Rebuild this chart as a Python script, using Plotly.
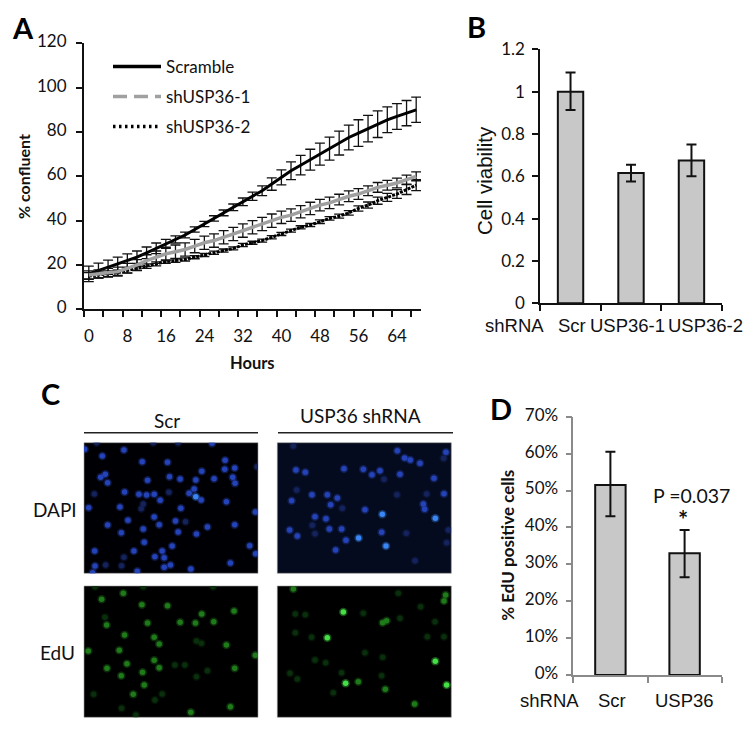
"""Four-panel figure: confluence curves, cell viability, micrographs, EdU bars."""

import plotly.graph_objects as go

# the page body keeps its 8px margin, so the figure fills what is left of the window
BODY = 8
W, H = 754 - BODY, 729 - BODY
CALIBRI = "Lato"
ARIAL = "Liberation Sans"
INK = "#111111"
BAR_GREY = "#c8c8c8"

# ── Panel A: confluence over time ───────────────────────────────────────────

HOURS = list(range(0, 70, 2))
SCRAMBLE = [16, 17.5, 19, 20.5, 22, 23.5, 25.5, 27.5, 29.5, 31.5, 33.5, 36, 38.5, 41, 43.5, 46, 48.5, 51,
            53.5, 56.5, 59.5, 62.5, 65, 67.5, 70, 72.5, 75, 77.5, 79.5, 81.5, 83.5, 85.5, 87, 88.5, 90]
SCRAMBLE_ERR = [3.5, 3.3, 3.2, 3, 3, 2.8, 2.6, 2.4, 2, 1.6, 1.3, 1.2, 1.2, 1.2, 1.3, 1.5, 1.7, 1.9,
                2.2, 2.8, 3.4, 4, 4.4, 4.7, 5, 5.2, 5.4, 5.6, 6, 6, 6, 5.8, 5.8, 5.7, 5.7]
SH1 = [15.5, 16, 16.5, 17, 18.5, 20, 22, 23.5, 25, 26, 27, 28.5, 30, 31, 32.5, 34, 35.5, 37,
       38.5, 40, 41.5, 42.5, 44, 45.5, 47, 48, 49.5, 51, 52, 53.5, 55, 56, 57, 58.5, 60]
SH1_ERR = [1.8, 1.8, 2, 2, 2.2, 2.4, 2.6, 2.8, 3, 3, 3, 3, 3, 3, 3, 3, 3, 3,
           3, 3, 2.8, 2.8, 2.8, 2.8, 2.6, 2.6, 2.4, 2.4, 2.4, 2.2, 2.2, 2.2, 2.2, 2, 2]
SH2 = [15, 15.5, 16, 16.5, 17.5, 18.5, 19.5, 20.5, 21.5, 22, 22.5, 23.5, 24.5, 25.5, 26.5, 27.5, 29, 30,
       31, 32.5, 34, 35.5, 37, 38, 39.5, 41, 42, 43.5, 45.5, 47, 49, 50.5, 52, 54, 56]
SH2_ERR = [1.5, 1.4, 1.3, 1.2, 1.1, 1, 1, 0.9, 0.8, 0.8, 0.7, 0.7, 0.7, 0.7, 0.7, 0.7, 0.7, 0.7,
           0.7, 0.7, 0.7, 0.7, 0.7, 0.7, 0.8, 0.8, 0.9, 1, 1.2, 1.4, 1.6, 1.8, 2, 2.2, 2.5]
A_TICKS = list(range(-1, 70, 4))
A_TICK_TEXT = ["0", "", "8", "", "16", "", "24", "", "32", "", "40", "", "48", "", "56", "", "64", ""]

# ── Panels B and D: bars ────────────────────────────────────────────────────

B_NAMES = ["Scr", "USP36-1", "USP36-2"]
B_VALUES = [1.0, 0.615, 0.675]
B_ERR_UP = [0.09, 0.04, 0.075]
B_ERR_DOWN = [0.087, 0.04, 0.075]

D_NAMES = ["Scr", "USP36"]
D_VALUES = [0.515, 0.33]
D_ERR_UP = [0.09, 0.063]
D_ERR_DOWN = [0.085, 0.065]

DAPI_SCR = [(372, 210, 1), (307, 228, 1), (427, 245, 1), (503, 247, 1), (676, 241, 1), (705, 264, 1), (675, 268, 1),
            (606, 274, 1), (316, 283, 1), (302, 292, 1), (323, 308, 1), (443, 301, 1), (509, 290, 1), (541, 297, 1),
            (588, 300, 1), (643, 296, 1), (699, 292, 1), (706, 310, 1), (374, 336, 1), (283, 342, 0), (417, 343, 1),
            (440, 345, 1), (463, 343, 1), (507, 337, 0), (481, 361, 1), (583, 327, 1), (568, 340, 1), (588, 350, 2),
            (604, 360, 1), (680, 365, 1), (430, 372, 0), (360, 381, 1), (424, 386, 0), (266, 383, 1), (543, 385, 1),
            (767, 396, 1), (463, 411, 1), (384, 421, 1), (323, 435, 1), (430, 447, 1), (478, 434, 1), (527, 423, 1),
            (557, 425, 0), (623, 441, 1), (705, 434, 1), (364, 458, 1), (535, 456, 1), (590, 462, 1), (433, 487, 1),
            (517, 498, 1), (750, 497, 1), (284, 513, 1), (402, 513, 1), (487, 513, 1), (768, 521, 1), (465, 530, 1),
            (372, 532, 0), (493, 533, 1), (512, 555, 1), (692, 549, 1), (285, 558, 1), (317, 555, 0), (365, 557, 0),
            (493, 562, 1), (573, 567, 1), (412, 574, 1), (278, 578, 1), (254, 208, 1), (772, 260, 0), (290, 188, 0),
            (460, 188, 0), (637, 190, 1), (535, 188, 0)]
DAPI_SH = [(880, 198, 0), (1192, 212, 1), (1338, 217, 1), (1214, 234, 1), (1231, 240, 1), (1331, 235, 0),
           (1260, 250, 1), (888, 270, 1), (916, 277, 1), (1032, 266, 1), (1090, 268, 1), (1140, 272, 1),
           (1116, 284, 1), (1200, 283, 1), (1152, 298, 0), (1302, 295, 1), (890, 330, 0), (936, 344, 1),
           (982, 344, 1), (1012, 354, 1), (1191, 344, 0), (1280, 342, 0), (1332, 341, 1), (875, 362, 1),
           (992, 374, 1), (1270, 372, 1), (1274, 388, 1), (1027, 385, 0), (1095, 389, 1), (1147, 403, 2),
           (945, 410, 1), (978, 416, 1), (1306, 415, 2), (937, 436, 0), (1025, 447, 1), (988, 447, 1),
           (869, 450, 1), (892, 468, 1), (945, 461, 0), (1038, 481, 1), (1076, 474, 2), (1145, 457, 1),
           (1219, 460, 0), (1158, 498, 2), (1340, 488, 0), (1007, 510, 1), (1245, 542, 0), (1345, 450, 0)]
EDU_SCR = [(370, 640, 1), (305, 658, 1), (426, 674, 1), (503, 677, 1), (703, 693, 1), (606, 702, 1), (315, 712, 0),
           (320, 735, 1), (443, 729, 1), (541, 727, 1), (587, 729, 1), (642, 725, 1), (374, 765, 1), (463, 772, 1),
           (478, 792, 1), (680, 795, 1), (265, 813, 1), (358, 811, 1), (381, 851, 1), (321, 865, 1), (463, 841, 1),
           (478, 863, 1), (705, 865, 1), (767, 826, 1), (364, 887, 1), (428, 877, 1), (433, 915, 1), (281, 943, 0),
           (400, 943, 1), (487, 942, 0), (465, 960, 0), (365, 985, 0), (573, 997, 1), (692, 980, 1), (408, 1005, 0),
           (640, 620, 0), (285, 620, 0), (430, 620, 0), (590, 890, 0), (525, 855, 0), (555, 855, 0), (623, 872, 0),
           (590, 783, 0), (605, 790, 0)]
EDU_SH = [(880, 627, 1), (1337, 645, 1), (1332, 663, 1), (1030, 696, 2), (886, 702, 0), (916, 704, 0), (1148, 728, 1),
          (1160, 722, 1), (1262, 680, 0), (982, 773, 2), (935, 772, 0), (886, 758, 0), (1148, 832, 0), (977, 848, 0),
          (1306, 844, 2), (1037, 910, 2), (1075, 905, 1), (1156, 928, 1), (1340, 915, 2), (1244, 972, 1), (1282, 770, 0),
          (1200, 715, 0), (1305, 725, 0), (1090, 700, 0), (1095, 818, 0), (1025, 878, 0), (945, 840, 0), (892, 897, 0),
          (870, 880, 0), (1145, 887, 0), (1000, 938, 0), (1332, 770, 0), (1195, 640, 0)]
DAPI_COLORS = ["#14235c", "#2443b8", "#3a86f5"]
EDU_COLORS = ["#0a2f0c", "#1f7a1a", "#45e045"]


def px_x(x):
    return (x - BODY) / W


def px_y(y):
    return 1 - (y - BODY) / H


def label(text, x, y, size=16, font=CALIBRI, bold=False, angle=0, color=INK):
    fig.add_annotation(
        text=f"<b>{text}</b>" if bold else text,
        x=px_x(x), y=px_y(y), xref="paper", yref="paper",
        showarrow=False, textangle=angle, xanchor="center", yanchor="middle",
        font=dict(family=font, size=size, color=color),
    )


def bar_trace(names, values, up, down, xaxis, yaxis, width):
    return go.Bar(
        x=names, y=values, width=width, xaxis=xaxis, yaxis=yaxis,
        marker=dict(color=BAR_GREY, line=dict(color=INK, width=2)),
        error_y=dict(type="data", array=up, arrayminus=down, color=INK, thickness=2, width=5),
        showlegend=False,
    )


def line_trace(values, errs, color, width, dash="solid"):
    return go.Scatter(
        x=HOURS, y=values, mode="lines", xaxis="x", yaxis="y", showlegend=False,
        line=dict(color=color, width=width, dash=dash),
        error_y=dict(type="data", array=errs, color=INK, thickness=1.3, width=5),
    )


def legend_key(name, color, dash, legend):
    # empty trace: the key has a dash pattern the dense plotted line does not show
    return go.Scatter(
        x=[None], y=[None], mode="lines", name=name, legend=legend, xaxis="x", yaxis="y",
        line=dict(color=color, width=3.5, dash=dash),
    )


def nuclei_traces(points, colors, xaxis, yaxis):
    xs = [p[0] for p in points]
    ys = [p[1] for p in points]
    shades = [colors[p[2]] for p in points]
    # soft halo under a smaller core, the micrograph nuclei are blurred
    halo = go.Scatter(x=xs, y=ys, mode="markers", xaxis=xaxis, yaxis=yaxis, showlegend=False,
                      marker=dict(size=8.5, color=shades, opacity=0.35, line=dict(width=0)))
    core = go.Scatter(x=xs, y=ys, mode="markers", xaxis=xaxis, yaxis=yaxis, showlegend=False,
                      marker=dict(size=5.5, color=shades, line=dict(width=0)))
    return [halo, core]


fig = go.Figure()

fig.add_trace(line_trace(SCRAMBLE, SCRAMBLE_ERR, "#000000", 3))
fig.add_trace(line_trace(SH2, SH2_ERR, "#000000", 3, "3px,1.2px"))
fig.add_trace(line_trace(SH1, SH1_ERR, "#a0a0a0", 3.5))
fig.add_trace(legend_key("Scramble", "#000000", "solid", "legend"))
fig.add_trace(legend_key("shUSP36-1", "#a0a0a0", "14px,7px", "legend2"))
fig.add_trace(legend_key("shUSP36-2", "#000000", "2.5px,3.5px", "legend3"))

fig.add_trace(bar_trace(B_NAMES, B_VALUES, B_ERR_UP, B_ERR_DOWN, "x2", "y2", 0.42))
fig.add_trace(bar_trace(D_NAMES, D_VALUES, D_ERR_UP, D_ERR_DOWN, "x3", "y3", 0.41))

for points, colors, xa, ya in [
    (DAPI_SCR, DAPI_COLORS, "x4", "y4"),
    (DAPI_SH, DAPI_COLORS, "x5", "y5"),
    (EDU_SCR, EDU_COLORS, "x6", "y6"),
    (EDU_SH, EDU_COLORS, "x7", "y7"),
]:
    fig.add_traces(nuclei_traces(points, colors, xa, ya))

tick_font = dict(family=CALIBRI, size=17, color=INK)
dark_axis = dict(showgrid=False, zeroline=False, showline=True, linecolor=INK, linewidth=2,
                 ticks="outside", tickcolor=INK, tickwidth=1.5, ticklen=6, tickfont=tick_font)
grey_axis = dict(dark_axis, linecolor="#8a8a8a", tickcolor="#8a8a8a", linewidth=1.5)

legend_base = dict(xanchor="left", yanchor="middle", bgcolor="rgba(0,0,0,0)", borderwidth=0,
                   itemwidth=48, x=px_x(108), font=dict(family=CALIBRI, size=17, color=INK))

panel_axis = dict(visible=False, showgrid=False, zeroline=False, fixedrange=True)

fig.update_layout(
    width=W, height=H, autosize=False,
    margin=dict(l=0, r=0, t=0, b=0, autoexpand=False),
    paper_bgcolor="white", plot_bgcolor="rgba(0,0,0,0)",
    legend=dict(legend_base, y=px_y(67)),
    legend2=dict(legend_base, y=px_y(97)),
    legend3=dict(legend_base, y=px_y(127)),
    xaxis=dict(dark_axis, domain=[px_x(84), px_x(421)], range=[-1, 69], anchor="y",
               tickvals=A_TICKS, ticktext=A_TICK_TEXT, ticklabelshift=5, ticklabelstandoff=4),
    yaxis=dict(dark_axis, domain=[px_y(309.3), px_y(43.3)], range=[0, 120], anchor="x", dtick=20,
               ticklabelshift=-2, ticklabelstandoff=6),
    xaxis2=dict(dark_axis, domain=[px_x(540.3), px_x(721.7)], anchor="y2", tickson="boundaries",
                showticklabels=False),
    yaxis2=dict(dark_axis, domain=[px_y(303.3), px_y(49.3)], range=[0, 1.2], anchor="x2",
                tickvals=[0, 0.2, 0.4, 0.6, 0.8, 1, 1.2], ticktext=["0", "0.2", "0.4", "0.6", "0.8", "1", "1.2"],
                ticklabelstandoff=4),
    xaxis3=dict(grey_axis, domain=[px_x(573.3), px_x(721.7)], anchor="y3", tickson="boundaries",
                showticklabels=False),
    yaxis3=dict(grey_axis, domain=[px_y(675), px_y(416.7)], range=[0, 0.7], anchor="x3", dtick=0.1,
                tickformat=".0%", ticklabelstandoff=4, ticklabelshift=-2),
    xaxis4=dict(panel_axis, domain=[px_x(84), px_x(258)], range=[252, 775], anchor="y4"),
    yaxis4=dict(panel_axis, domain=[px_y(573.3), px_y(442.7)], range=[580, 188], anchor="x4"),
    xaxis5=dict(panel_axis, domain=[px_x(277.3), px_x(451.3)], range=[832, 1354], anchor="y5"),
    yaxis5=dict(panel_axis, domain=[px_y(573.3), px_y(442.7)], range=[580, 188], anchor="x5"),
    xaxis6=dict(panel_axis, domain=[px_x(84), px_x(258)], range=[252, 775], anchor="y6"),
    yaxis6=dict(panel_axis, domain=[px_y(717.3), px_y(586)], range=[1012, 618], anchor="x6"),
    xaxis7=dict(panel_axis, domain=[px_x(277.3), px_x(451.3)], range=[832, 1354], anchor="y7"),
    yaxis7=dict(panel_axis, domain=[px_y(717.3), px_y(586)], range=[1012, 618], anchor="x7"),
)

# micrograph backgrounds and the two rules above them
for x0, x1, y0, y1, fill in [
    (84, 258, 442.7, 573.3, "#000004"),
    (277.3, 451.3, 442.7, 573.3, "#050b1e"),
    (84, 258, 586, 717.3, "#000000"),
    (277.3, 451.3, 586, 717.3, "#000000"),
]:
    fig.add_shape(type="rect", xref="paper", yref="paper", layer="below",
                  x0=px_x(x0), x1=px_x(x1), y0=px_y(y0), y1=px_y(y1),
                  fillcolor=fill, line=dict(color="#9a9a9a", width=0.6))
for x0, x1 in [(84, 258), (278, 453)]:
    fig.add_shape(type="line", xref="paper", yref="paper",
                  x0=px_x(x0), x1=px_x(x1), y0=px_y(432.7), y1=px_y(432.7),
                  line=dict(color="#222222", width=1.5))

label("A", 23, 28, size=29, bold=True, color="#000000")
label("B", 476, 27, size=29, bold=True, color="#000000")
label("C", 50.7, 393, size=29, bold=True, color="#000000")
label("D", 500.7, 408, size=29, bold=True, color="#000000")

label("% confluent", 23, 177, size=16, bold=True, angle=-90)
label("Hours", 252, 362.7, size=16.5, bold=True)

label("Cell viability", 484, 181, size=20.5, font=ARIAL, angle=-90)
label("shRNA", 514, 325, size=18.5, font=ARIAL)
for name, x in zip(B_NAMES, [572, 627, 705]):
    label(name, x, 325, size=18.5, font=ARIAL)

label("Scr", 166.7, 420, size=19)
label("USP36 shRNA", 360, 415, size=19)
label("DAPI", 55, 509, size=19)
label("EdU", 57, 652, size=19)

label("% EdU positive cells", 508, 545.7, size=17, bold=True, angle=-90)
label("P =0.037", 691.7, 495.7, size=19.5)
label("*", 682.7, 519, size=24, bold=True)
label("shRNA", 549, 700, size=18.5, font=ARIAL)
for name, x in zip(D_NAMES, [611.7, 684]):
    label(name, x, 700, size=18.5, font=ARIAL)

fig.write_html("out.html")
